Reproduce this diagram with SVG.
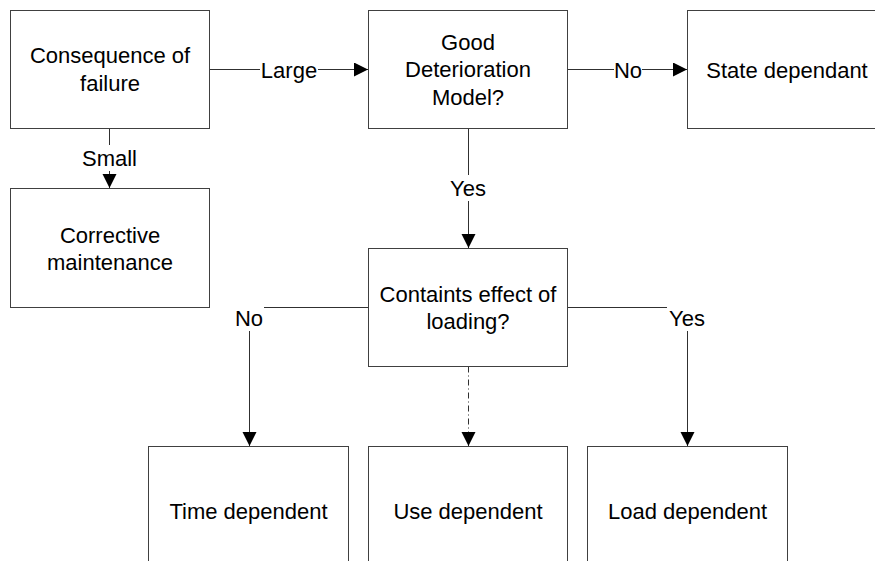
<svg xmlns="http://www.w3.org/2000/svg" width="875" height="561" viewBox="0 0 875 561">
  <style>
    .box { fill: #ffffff; stroke: #404040; stroke-width: 1; }
    .txt { font-family: "Liberation Sans", Arial, sans-serif; font-size: 22px; fill: #000000; text-anchor: middle; }
    .edge { fill: none; stroke: #303030; stroke-width: 1; }
    .dashdot { stroke-dasharray: 6 3 1 3; }
    .lblbg { fill: #ffffff; stroke: none; }
  </style>
  <defs>
    <marker id="arrow" markerUnits="userSpaceOnUse" markerWidth="15" markerHeight="15" refX="14" refY="7" orient="auto">
      <path d="M0,0 L14,7 L0,14 Z" fill="#000000"/>
    </marker>
  </defs>
  <rect width="875" height="561" fill="#ffffff"/>

  <!-- connectors -->
  <g id="connectors">
    <path class="edge" d="M209.5,69.5 H368" marker-end="url(#arrow)"/>
    <path class="edge" d="M567.5,69.5 H687" marker-end="url(#arrow)"/>
    <path class="edge" d="M109.5,128.5 V188" marker-end="url(#arrow)"/>
    <path class="edge" d="M468.5,128.5 V248" marker-end="url(#arrow)"/>
    <path class="edge" d="M368.5,307.5 H249.5 V446" marker-end="url(#arrow)"/>
    <path class="edge dashdot" d="M468.5,366.5 V446" marker-end="url(#arrow)"/>
    <path class="edge" d="M567.5,307.5 H687.5 V446" marker-end="url(#arrow)"/>

    <rect class="lblbg" x="260" y="57" width="58" height="26"/>
    <text class="txt" x="289" y="77.5">Large</text>
    <rect class="lblbg" x="614" y="57" width="28" height="26"/>
    <text class="txt" x="628" y="77.5">No</text>
    <rect class="lblbg" x="82" y="145" width="55" height="26"/>
    <text class="txt" x="109.5" y="166">Small</text>
    <rect class="lblbg" x="449" y="175" width="38" height="26"/>
    <text class="txt" x="468" y="196">Yes</text>
    <rect class="lblbg" x="234" y="305" width="30" height="26"/>
    <text class="txt" x="249" y="326">No</text>
    <rect class="lblbg" x="667" y="305" width="40" height="26"/>
    <text class="txt" x="687" y="326">Yes</text>
  </g>

  <g id="consequence">
    <rect class="box" x="10.5" y="10.5" width="199" height="118"/>
    <text class="txt" x="110" y="63">Consequence of</text>
    <text class="txt" x="110" y="91">failure</text>
  </g>

  <g id="deterioration">
    <rect class="box" x="368.5" y="10.5" width="199" height="118"/>
    <text class="txt" x="468" y="50">Good</text>
    <text class="txt" x="468" y="77">Deterioration</text>
    <text class="txt" x="468" y="105">Model?</text>
  </g>

  <g id="state">
    <rect class="box" x="687.5" y="10.5" width="200" height="118"/>
    <text class="txt" x="787" y="78">State dependant</text>
  </g>

  <g id="corrective">
    <rect class="box" x="10.5" y="188.5" width="199" height="119"/>
    <text class="txt" x="110" y="242.5">Corrective</text>
    <text class="txt" x="110" y="269.5">maintenance</text>
  </g>

  <g id="loading">
    <rect class="box" x="368.5" y="248.5" width="199" height="118"/>
    <text class="txt" x="468" y="302">Containts effect of</text>
    <text class="txt" x="468" y="329">loading?</text>
  </g>

  <g id="time">
    <rect class="box" x="148.5" y="446.5" width="200" height="130"/>
    <text class="txt" x="248.5" y="519">Time dependent</text>
  </g>

  <g id="use">
    <rect class="box" x="368.5" y="446.5" width="199" height="130"/>
    <text class="txt" x="468" y="519">Use dependent</text>
  </g>

  <g id="load">
    <rect class="box" x="587.5" y="446.5" width="200" height="130"/>
    <text class="txt" x="687.5" y="519">Load dependent</text>
  </g>
</svg>
